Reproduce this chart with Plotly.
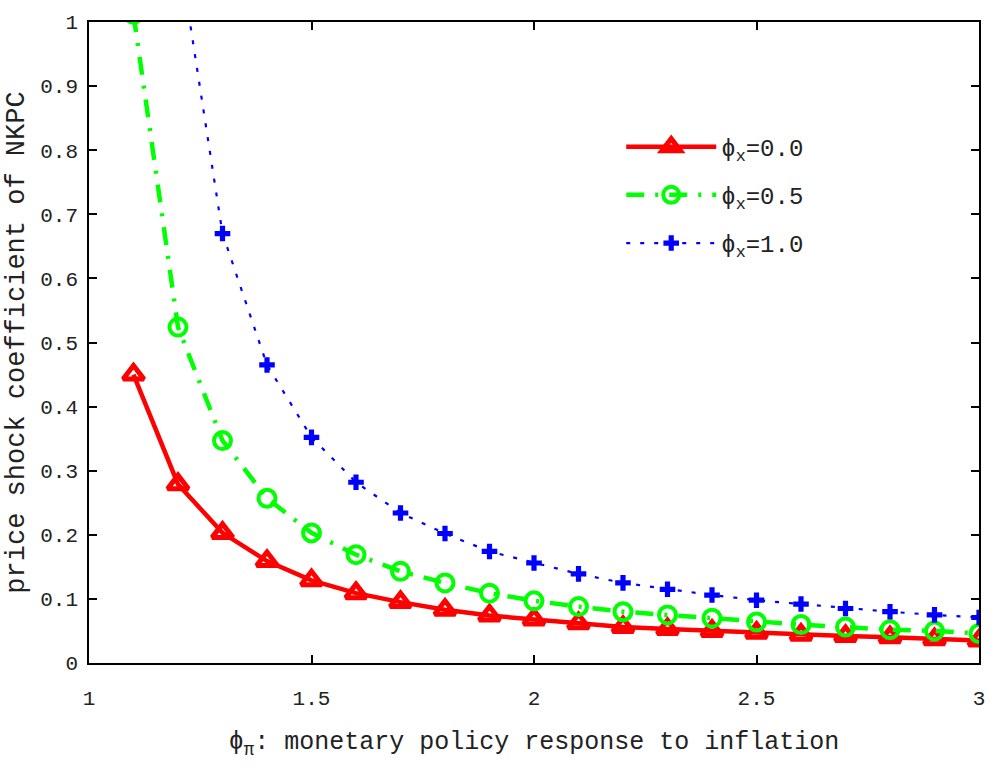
import plotly.graph_objects as go

# Monetary policy response to inflation (phi_pi)
phi_pi = [1.1, 1.2, 1.3, 1.4, 1.5, 1.6, 1.7, 1.8, 1.9, 2.0,
          2.1, 2.2, 2.3, 2.4, 2.5, 2.6, 2.7, 2.8, 2.9, 3.0]

# Price shock coefficient of the NKPC for each output-gap response phi_x
coef_phix_00 = [0.450, 0.279, 0.203, 0.159, 0.129, 0.109, 0.095, 0.083, 0.074, 0.068,
                0.062, 0.056, 0.053, 0.050, 0.047, 0.044, 0.042, 0.040, 0.037, 0.035]
coef_phix_05 = [1.012, 0.524, 0.347, 0.257, 0.203, 0.169, 0.143, 0.125, 0.109, 0.097,
                0.088, 0.080, 0.075, 0.070, 0.064, 0.060, 0.056, 0.052, 0.050, 0.046]
coef_phix_10 = [2.300, 1.120, 0.670, 0.465, 0.352, 0.282, 0.234, 0.202, 0.174, 0.156,
                0.139, 0.125, 0.115, 0.106, 0.098, 0.092, 0.085, 0.080, 0.075, 0.071]

series_names = ["ϕ<sub>x</sub>=0.0", "ϕ<sub>x</sub>=0.5", "ϕ<sub>x</sub>=1.0"]

x_ticks = [1, 1.5, 2, 2.5, 3]
x_tick_text = ["1", "1.5", "2", "2.5", "3"]
y_ticks = [0, 0.1, 0.2, 0.3, 0.4, 0.5, 0.6, 0.7, 0.8, 0.9, 1.0]
y_tick_text = ["0", "0.1", "0.2", "0.3", "0.4", "0.5", "0.6", "0.7", "0.8", "0.9", "1"]

FONT = "Liberation Mono, Courier New, monospace"
TEXT_COLOR = "#222222"

fig = go.Figure()

fig.add_trace(go.Scatter(
    x=phi_pi, y=coef_phix_00, name=series_names[0], legendgroup="a",
    mode="lines+markers",
    line=dict(color="#ff0000", width=4.5, dash="solid"),
    marker=dict(symbol="triangle-up-open", size=18, color="#ff0000",
                line=dict(color="#ff0000", width=5)),
))
fig.add_trace(go.Scatter(
    x=phi_pi, y=coef_phix_05, name=series_names[1], legendgroup="b",
    mode="lines+markers",
    line=dict(color="#00ff00", width=4.5, dash="18px,11px,3px,11px"),
    marker=dict(symbol="circle-open", size=17, color="#00ff00",
                line=dict(color="#00ff00", width=4)),
))
fig.add_trace(go.Scatter(
    x=phi_pi, y=coef_phix_10, name=series_names[2], legendgroup="c",
    mode="lines+markers",
    line=dict(color="#0000ff", width=2.2, dash="4px,10px"),
    marker=dict(symbol="cross", size=13, color="#0000ff", line=dict(width=0)),
))

axis_common = dict(
    showline=True, linecolor="black", linewidth=1.5, mirror="allticks",
    ticks="inside", ticklen=8, tickwidth=1.5, tickcolor="black",
    showgrid=False, zeroline=False,
    tickfont=dict(family=FONT, size=21, color=TEXT_COLOR),
)

fig.update_layout(
    width=997, height=771,
    margin=dict(l=89, r=14, t=14, b=108),
    paper_bgcolor="white", plot_bgcolor="white",
    font=dict(family=FONT, size=21, color=TEXT_COLOR),
    showlegend=True,
    legend=dict(
        x=0.598, y=0.84, xanchor="left", yanchor="top",
        bgcolor="rgba(0,0,0,0)", borderwidth=0,
        font=dict(family=FONT, size=24, color=TEXT_COLOR),
        itemwidth=90, tracegroupgap=14,
    ),
    xaxis=dict(
        range=[1, 3], tickvals=x_ticks, ticktext=x_tick_text,
        ticklabelstandoff=15,
        title=dict(text="ϕ<sub>π</sub>: monetary policy response to inflation",
                   font=dict(family=FONT, size=25, color=TEXT_COLOR), standoff=22),
        **axis_common,
    ),
    yaxis=dict(
        range=[0, 1], tickvals=y_ticks, ticktext=y_tick_text,
        ticklabelstandoff=5,
        title=dict(text="price shock coefficient of NKPC",
                   font=dict(family=FONT, size=27, color=TEXT_COLOR), standoff=8),
        **axis_common,
    ),
)

fig.write_html("out.html")
